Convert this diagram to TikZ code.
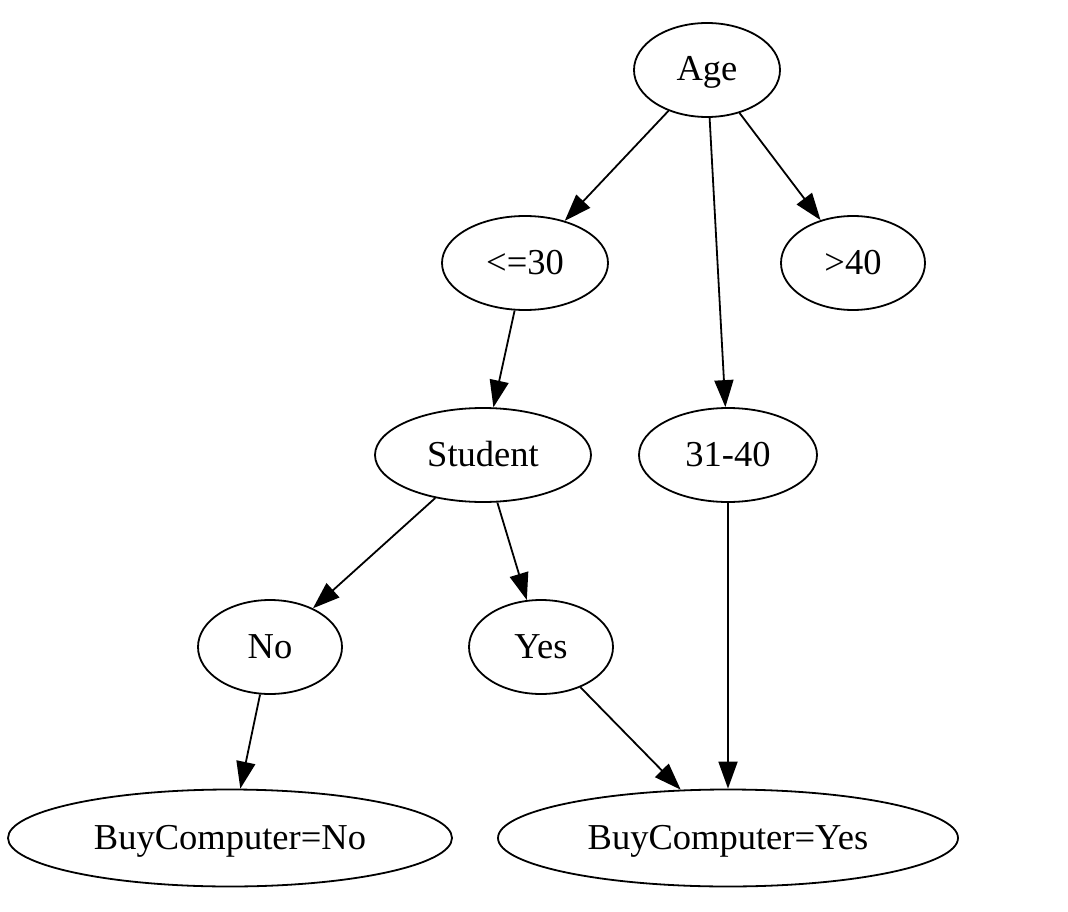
\documentclass[tikz,border=0pt]{standalone}
\usepackage{fontspec}
\setmainfont{Liberation Serif}
\usetikzlibrary{shapes.geometric, arrows.meta}
\begin{document}
\begin{tikzpicture}[x=1pt, y=-1pt, line width=1.8pt,
  every node/.style={ellipse, draw, inner sep=0pt, text height=25pt, text depth=3pt,
    font=\fontsize{36.5}{44}\selectfont},
  edge/.style={-{Triangle[length=27pt, width=19pt]}}]
\useasboundingbox (0,0) rectangle (1068,912);

\node [minimum width=146pt, minimum height=94pt] (age) at (707,70) {Age};
\node [minimum width=166pt, minimum height=94pt] (young) at (525,263) {<=30};
\node [minimum width=144pt, minimum height=94pt] (old) at (853,263) {>40};
\node [minimum width=216pt, minimum height=94pt] (student) at (483,455) {Student};
\node [minimum width=178pt, minimum height=94pt] (middle) at (728,455) {31-40};
\node [minimum width=144pt, minimum height=94pt] (no) at (270,647) {No};
\node [minimum width=144pt, minimum height=94pt] (yes) at (541,647) {Yes};
\node [minimum width=444pt, minimum height=97pt] (buyno) at (230,838) {BuyComputer=No};
\node [minimum width=460pt, minimum height=97pt] (buyyes) at (728,838) {BuyComputer=Yes};

\draw [edge] (age) -- (young);
\draw [edge] (age) -- (middle);
\draw [edge] (age) -- (old);
\draw [edge] (young) -- (student);
\draw [edge] (student) -- (no);
\draw [edge] (student) -- (yes);
\draw [edge] (no) -- (buyno);
\draw [edge] (yes) -- (buyyes);
\draw [edge] (middle) -- (buyyes);
\end{tikzpicture}
\end{document}
